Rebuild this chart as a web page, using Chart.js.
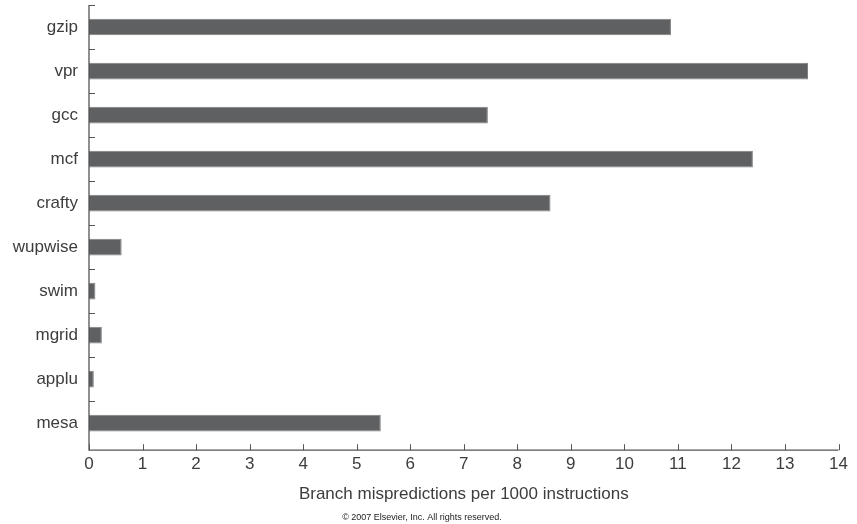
<!DOCTYPE html>
<html>
<head>
<meta charset="utf-8">
<script src="https://cdn.jsdelivr.net/npm/chart.js@4"></script>
<style>
  html, body { margin: 0; padding: 0; background: #fff; }
  canvas { display: block; }
</style>
</head>
<body>
<canvas id="myChart" width="857" height="524"></canvas>
<script>
var benchmarks = ['gzip', 'vpr', 'gcc', 'mcf', 'crafty', 'wupwise', 'swim', 'mgrid', 'applu', 'mesa'];
var mispredictions = [10.87, 13.43, 7.45, 12.40, 8.62, 0.61, 0.12, 0.24, 0.09, 5.45];
var xTicks = [0, 1, 2, 3, 4, 5, 6, 7, 8, 9, 10, 11, 12, 13, 14];

var fontFamily = "'Liberation Sans', Arial, Helvetica, sans-serif";
var textColor = '#3d3d3d';
var axisColor = '#555555';

// axes are drawn by hand so the tick marks point inward like the original
var inwardAxes = {
  id: 'inwardAxes',
  afterDraw: function (chart) {
    var ctx = chart.ctx;
    var area = chart.chartArea;
    var x = chart.scales.x;
    var y = chart.scales.y;
    var axisY = area.bottom + 5;
    var band = (area.bottom - area.top) / benchmarks.length;

    ctx.save();
    ctx.strokeStyle = axisColor;
    ctx.lineWidth = 1.3;

    ctx.beginPath();
    ctx.moveTo(area.left, area.top);
    ctx.lineTo(area.left, axisY);
    ctx.lineTo(area.right, axisY);
    ctx.stroke();

    ctx.lineWidth = 1;
    ctx.beginPath();
    for (var i = 0; i < benchmarks.length; ++i) {
      var py = Math.round(y.getPixelForValue(i) - band / 2) + 0.5;
      ctx.moveTo(area.left, py);
      ctx.lineTo(area.left + 6, py);
    }
    for (var j = 0; j < xTicks.length; ++j) {
      var px = Math.round(x.getPixelForValue(xTicks[j])) + 0.5;
      ctx.moveTo(px, axisY);
      ctx.lineTo(px, axisY - 6);
    }
    ctx.stroke();
    ctx.restore();
  }
};

var ctx = document.getElementById('myChart');
var myChart = new Chart(ctx, {
  type: 'bar',
  data: {
    labels: benchmarks,
    datasets: [{
      label: 'Branch mispredictions per 1000 instructions',
      data: mispredictions,
      backgroundColor: '#5f6062',
      borderColor: '#808183',
      borderWidth: 1,
      borderSkipped: 'left',
      barPercentage: 0.38,
      categoryPercentage: 1
    }]
  },
  options: {
    indexAxis: 'y',
    responsive: false,
    devicePixelRatio: 1,
    animation: false,
    layout: {
      padding: { top: 5, right: 13, bottom: 0, left: 0 }
    },
    plugins: {
      legend: { display: false },
      tooltip: { enabled: false },
      title: {
        display: true,
        position: 'bottom',
        text: '\u00a9 2007 Elsevier, Inc. All rights reserved.',
        color: '#222222',
        font: { family: fontFamily, size: 9, weight: 'normal' },
        padding: { top: 0, bottom: 1 }
      }
    },
    scales: {
      x: {
        type: 'linear',
        min: 0,
        max: 14,
        afterFit: function (scale) { scale.height = 67; },
        afterBuildTicks: function (scale) {
          scale.ticks = xTicks.map(function (v) { return { value: v }; });
        },
        grid: { display: false, drawTicks: false },
        border: { display: false },
        ticks: {
          color: textColor,
          padding: 9,
          maxRotation: 0,
          autoSkip: false,
          font: { family: fontFamily, size: 17 }
        },
        title: {
          display: true,
          text: 'Branch mispredictions per 1000 instructions',
          color: textColor,
          font: { family: fontFamily, size: 17 },
          padding: { top: 0, bottom: 8 }
        }
      },
      y: {
        afterFit: function (scale) {
          scale.width = 89;
          scale.paddingTop = 0;
          scale.paddingBottom = 0;
        },
        grid: { display: false, drawTicks: false },
        border: { display: false },
        ticks: {
          color: textColor,
          padding: 11,
          font: { family: fontFamily, size: 17 }
        }
      }
    }
  },
  plugins: [inwardAxes]
});
</script>
</body>
</html>
